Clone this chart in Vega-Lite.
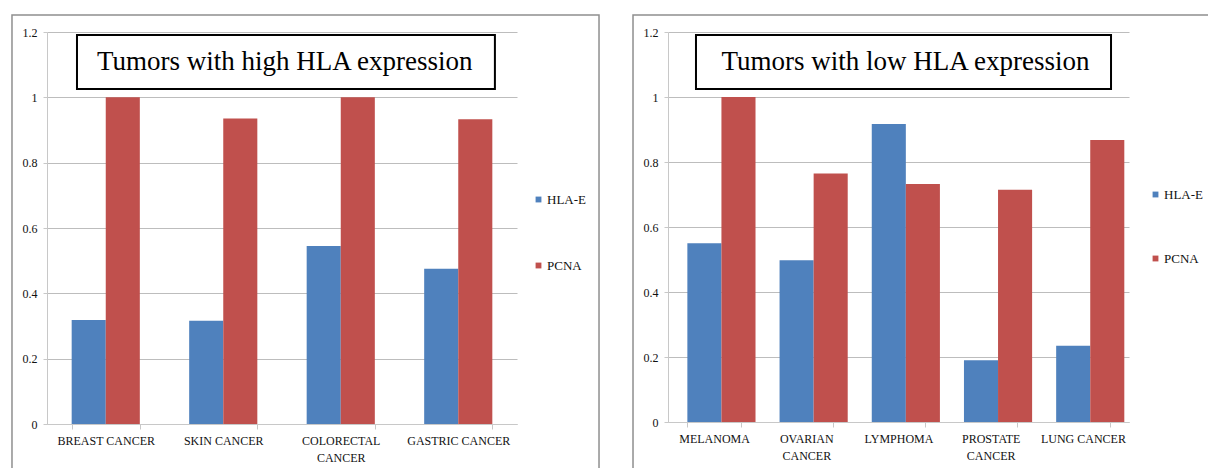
{
  "$schema": "https://vega.github.io/schema/vega-lite/v6.json",
  "padding": {"left": 11, "top": 14, "right": 0, "bottom": 0},
  "background": "white",
  "config": {
    "view": {"stroke": null},
    "font": "Liberation Serif",
    "axis": {
      "labelFont": "Liberation Serif",
      "labelFontSize": 12,
      "labelColor": "#111111",
      "domainColor": "#c8c8c8",
      "tickColor": "#c8c8c8",
      "gridColor": "#bdbdbd",
      "title": null
    },
    "legend": {
      "labelFont": "Liberation Serif",
      "labelFontSize": 13,
      "labelColor": "#111111",
      "labelOffset": 2,
      "symbolType": "square",
      "symbolSize": 34,
      "symbolStrokeWidth": 0,
      "title": null,
      "orient": "none",
      "padding": 0
    }
  },
  "datasets": {
    "high": [
      {"cancer": "BREAST CANCER", "marker": "HLA-E", "value": 0.318},
      {"cancer": "BREAST CANCER", "marker": "PCNA", "value": 1.0},
      {"cancer": "SKIN CANCER", "marker": "HLA-E", "value": 0.316},
      {"cancer": "SKIN CANCER", "marker": "PCNA", "value": 0.935},
      {"cancer": "COLORECTAL CANCER", "marker": "HLA-E", "value": 0.545},
      {"cancer": "COLORECTAL CANCER", "marker": "PCNA", "value": 1.0},
      {"cancer": "GASTRIC CANCER", "marker": "HLA-E", "value": 0.475},
      {"cancer": "GASTRIC CANCER", "marker": "PCNA", "value": 0.933}
    ],
    "low": [
      {"cancer": "MELANOMA", "marker": "HLA-E", "value": 0.55},
      {"cancer": "MELANOMA", "marker": "PCNA", "value": 1.0},
      {"cancer": "OVARIAN CANCER", "marker": "HLA-E", "value": 0.498},
      {"cancer": "OVARIAN CANCER", "marker": "PCNA", "value": 0.765},
      {"cancer": "LYMPHOMA", "marker": "HLA-E", "value": 0.917},
      {"cancer": "LYMPHOMA", "marker": "PCNA", "value": 0.732},
      {"cancer": "PROSTATE CANCER", "marker": "HLA-E", "value": 0.19},
      {"cancer": "PROSTATE CANCER", "marker": "PCNA", "value": 0.715},
      {"cancer": "LUNG CANCER", "marker": "HLA-E", "value": 0.235},
      {"cancer": "LUNG CANCER", "marker": "PCNA", "value": 0.868}
    ]
  },
  "spacing": 32,
  "hconcat": [
    {
      "width": 470,
      "height": 392,
      "layer": [
        {
          "data": {"name": "high"},
          "mark": {"type": "bar"},
          "encoding": {
            "x": {
              "field": "cancer", "type": "nominal", "sort": null,
              "scale": {"paddingInner": 0.42, "paddingOuter": 0.21},
              "axis": {
                "labelAngle": 0, "tickBand": "extent", "tickSize": 5, "labelPadding": 6,
                "labelLimit": 300, "labelLineHeight": 17,
                "labelExpr": "datum.label == 'COLORECTAL CANCER' ? ['COLORECTAL', 'CANCER'] : datum.label"
              }
            },
            "xOffset": {"field": "marker", "type": "nominal", "scale": {"paddingInner": 0, "paddingOuter": 0}},
            "y": {
              "field": "value", "type": "quantitative",
              "scale": {"domain": [0, 1.2], "nice": false},
              "axis": {"values": [0, 0.2, 0.4, 0.6, 0.8, 1, 1.2], "format": "~g", "tickSize": 4, "labelPadding": 6, "grid": true}
            },
            "color": {
              "field": "marker", "type": "nominal",
              "scale": {"domain": ["HLA-E", "PCNA"], "range": ["#4F81BD", "#C0504D"]},
              "legend": {"legendX": 485, "legendY": 161, "rowPadding": 52}
            }
          }
        },
        {
          "data": {"values": [{"title": "Tumors with high HLA expression"}]},
          "layer": [
            {
              "mark": {"type": "rect", "fillOpacity": 0, "stroke": "#8f8f8f", "strokeWidth": 1.5},
              "encoding": {
                "x": {"datum": -0.0745, "type": "quantitative", "scale": {"domain": [0, 1], "nice": false}, "axis": null},
                "x2": {"datum": 1.1745},
                "y": {"datum": 1.252, "type": "quantitative", "scale": {"domain": [0, 1.2], "nice": false}, "axis": null},
                "y2": {"datum": -0.3}
              }
            },
            {
              "mark": {"type": "rect", "fill": "white", "stroke": "black", "strokeWidth": 2},
              "encoding": {
                "x": {"datum": 0.0638, "type": "quantitative"},
                "x2": {"datum": 0.953},
                "y": {"datum": 1.1908, "type": "quantitative"},
                "y2": {"datum": 1.0255}
              }
            },
            {
              "mark": {"type": "text", "font": "Liberation Serif", "fontSize": 27, "color": "black", "baseline": "middle", "align": "center"},
              "encoding": {
                "x": {"datum": 0.506, "type": "quantitative"},
                "y": {"datum": 1.108, "type": "quantitative"},
                "text": {"field": "title"}
              }
            }
          ]
        }
      ],
      "resolve": {"scale": {"x": "independent", "y": "independent"}}
    },
    {
      "width": 461,
      "height": 390,
      "layer": [
        {
          "data": {"name": "low"},
          "mark": {"type": "bar"},
          "encoding": {
            "x": {
              "field": "cancer", "type": "nominal", "sort": null,
              "scale": {"paddingInner": 0.42, "paddingOuter": 0.21},
              "axis": {
                "labelAngle": 0, "tickBand": "extent", "tickSize": 5, "labelPadding": 6,
                "labelLimit": 300, "labelLineHeight": 17,
                "labelExpr": "(datum.label == 'OVARIAN CANCER' || datum.label == 'PROSTATE CANCER') ? split(datum.label, ' ') : datum.label"
              }
            },
            "xOffset": {"field": "marker", "type": "nominal", "scale": {"paddingInner": 0, "paddingOuter": 0}},
            "y": {
              "field": "value", "type": "quantitative",
              "scale": {"domain": [0, 1.2], "nice": false},
              "axis": {"values": [0, 0.2, 0.4, 0.6, 0.8, 1, 1.2], "format": "~g", "tickSize": 4, "labelPadding": 6, "grid": true}
            },
            "color": {
              "field": "marker", "type": "nominal",
              "scale": {"domain": ["HLA-E", "PCNA"], "range": ["#4F81BD", "#C0504D"]},
              "legend": {"legendX": 481, "legendY": 156, "rowPadding": 50}
            }
          }
        },
        {
          "data": {"values": [{"title": "Tumors with low HLA expression"}]},
          "layer": [
            {
              "mark": {"type": "rect", "fillOpacity": 0, "stroke": "#8f8f8f", "strokeWidth": 1.5},
              "encoding": {
                "x": {"datum": -0.0759, "type": "quantitative", "scale": {"domain": [0, 1], "nice": false}, "axis": null},
                "x2": {"datum": 1.3},
                "y": {"datum": 1.2523, "type": "quantitative", "scale": {"domain": [0, 1.2], "nice": false}, "axis": null},
                "y2": {"datum": -0.3}
              }
            },
            {
              "mark": {"type": "rect", "fill": "white", "stroke": "black", "strokeWidth": 2},
              "encoding": {
                "x": {"datum": 0.0607, "type": "quantitative"},
                "x2": {"datum": 0.961},
                "y": {"datum": 1.1908, "type": "quantitative"},
                "y2": {"datum": 1.0246}
              }
            },
            {
              "mark": {"type": "text", "font": "Liberation Serif", "fontSize": 27, "color": "black", "baseline": "middle", "align": "center"},
              "encoding": {
                "x": {"datum": 0.515, "type": "quantitative"},
                "y": {"datum": 1.108, "type": "quantitative"},
                "text": {"field": "title"}
              }
            }
          ]
        }
      ],
      "resolve": {"scale": {"x": "independent", "y": "independent"}}
    }
  ],
  "resolve": {"scale": {"color": "independent"}, "legend": {"color": "independent"}}
}
